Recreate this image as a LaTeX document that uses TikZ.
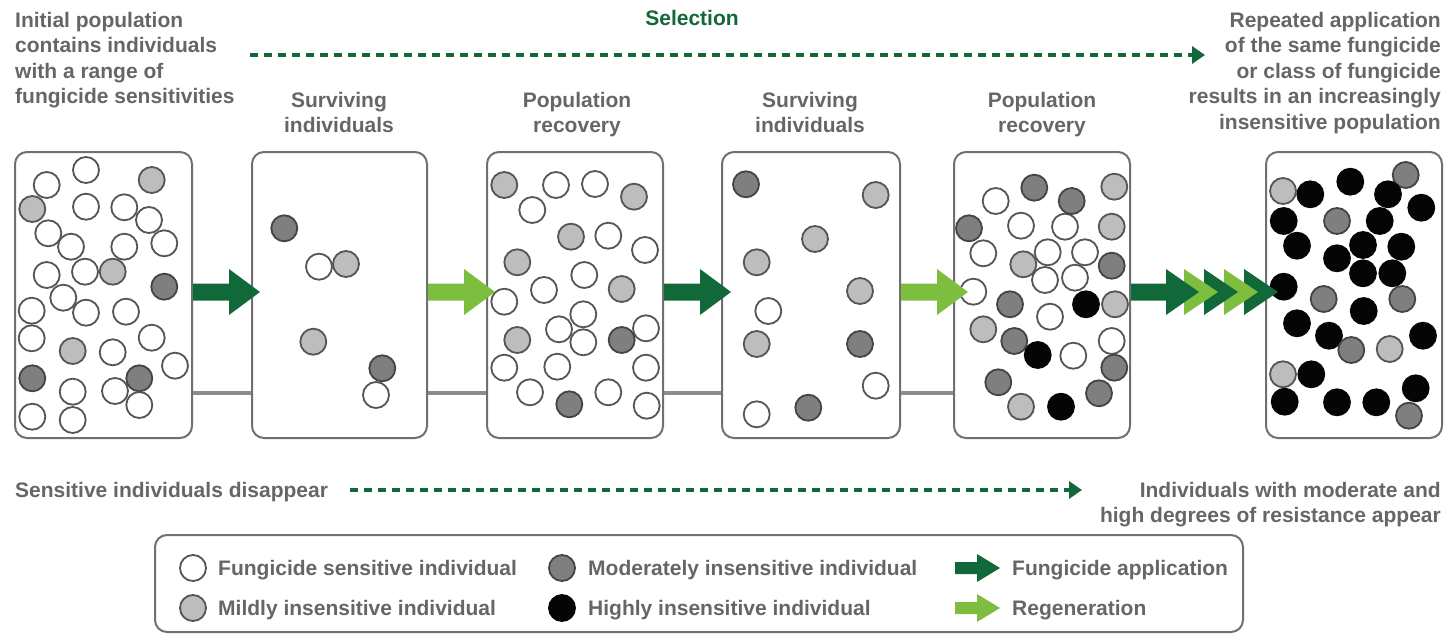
\documentclass[tikz,border=0pt]{standalone}
\usepackage{fontspec}
\setmainfont{Liberation Sans}
\usetikzlibrary{arrows.meta,calc}
\definecolor{darkg}{HTML}{11693A}
\definecolor{lightg}{HTML}{7DBE3F}
\definecolor{txtgray}{HTML}{666666}
\definecolor{boxgray}{HTML}{707070}
\definecolor{linkgray}{HTML}{8C8C8C}
\definecolor{ringgray}{HTML}{555555}
\definecolor{mildfill}{HTML}{BDBDBD}
\definecolor{modfill}{HTML}{7F7F7F}
\definecolor{highfill}{HTML}{050505}
% block arrow: #1 colour, #2 start point (shaft starts there, centred)
\newcommand\BlockArr[2]{\fill[#1] #2 ++(0,-8.5) -- ++(36,0) -- ++(0,-14.5) -- ++(31,23) -- ++(-31,23) -- ++(0,-14.5) -- ++(-36,0) -- cycle;}
\begin{document}
\begin{tikzpicture}[x=1pt,y=-1pt,
  popbox/.style={draw=boxgray, line width=2pt, fill=white, rounded corners=12pt, minimum height=286pt, inner sep=0pt},
  legbox/.style={draw=boxgray, line width=2pt, fill=white, rounded corners=12pt, inner sep=0pt},
  link/.style={draw=linkgray, line width=4.5pt},
  lbl/.style={font=\bfseries\fontsize{21}{25.5}\selectfont, text=txtgray, inner sep=0pt},
  sel/.style={font=\bfseries\fontsize{21}{25.5}\selectfont, text=darkg, inner sep=0pt},
  seldash/.style={draw=darkg, line width=3.5pt, dash pattern=on 8pt off 6pt, -{Triangle[length=13pt,width=17pt]}},
  cW/.style={draw=ringgray, line width=1.8pt, fill=white},
  cL/.style={draw=ringgray, line width=1.8pt, fill=mildfill},
  cM/.style={draw=ringgray!80!black, line width=1.8pt, fill=modfill},
  cH/.style={draw=highfill, line width=1.8pt, fill=highfill}]
\useasboundingbox (0,0) rectangle (1453,637);

% population boxes
\node[popbox, minimum width=177pt] (b1) at (103.5,295) {};
\node[popbox, minimum width=175pt] (b2) at (339.5,295) {};
\node[popbox, minimum width=176pt] (b3) at (575,295) {};
\node[popbox, minimum width=178pt] (b4) at (811,295) {};
\node[popbox, minimum width=176pt] (b5) at (1042,295) {};
\node[popbox, minimum width=176pt] (b6) at (1354,295) {};

% grey links between boxes
\draw[link] ([yshift=46pt]b1.south east) -- ([yshift=46pt]b2.south west);
\draw[link] ([yshift=46pt]b2.south east) -- ([yshift=46pt]b3.south west);
\draw[link] ([yshift=46pt]b3.south east) -- ([yshift=46pt]b4.south west);
\draw[link] ([yshift=46pt]b4.south east) -- ([yshift=46pt]b5.south west);

% individuals
\foreach \x/\y/\t in {86/170/W, 46.7/185/W, 151.7/180/L, 32.3/209/L, 86/206.7/W, 124.3/207.3/W, 149/220/W, 48.3/233.3/W, 71/246.7/W, 124.3/246.7/W, 164.3/243.3/W, 46.7/275/W, 85/271.7/W, 112.7/271.7/L, 164.3/286.7/M, 63.3/297.7/W, 86/312.7/W, 126/311.7/W, 31.7/310.7/W, 31.7/338.3/W, 72.7/351/L, 112.7/352.3/W, 151.7/337.7/W, 175/365.7/W, 32.3/378.3/M, 72.7/391.7/W, 115/391/W, 139.3/378.3/M, 139.3/405/W, 32.3/416.7/W, 72.7/420/W,
 284.3/228.3/M, 319/266.7/W, 346/264/L, 313.3/341.7/L, 382.3/368.3/M, 376/395/W,
 504.3/185/L, 556/185/W, 595/184/W, 634/196.7/L, 532.3/210/W, 571/236.7/L, 608.3/235.7/W, 645/250/W, 517.3/262.3/L, 584.3/275/W, 544/290/W, 621.7/289/L, 504.3/301.7/W, 583.3/314.3/W, 559/329.3/W, 646/328.3/W, 517.3/340/L, 583.3/342.3/W, 621.7/340/M, 504.3/367.7/W, 557.3/366.7/W, 646/367.7/W, 530/392.3/W, 608.3/392.3/W, 569.3/404.3/M, 646.7/405.7/W,
 746/184.3/M, 875.7/195/L, 815/239/L, 756.7/262.3/L, 860/291/L, 768.3/311/W, 756.7/344/L, 860/344/M, 875.7/385.7/W, 756.7/414.3/W, 808.3/407.7/M,
 1034.3/187.7/M, 995.7/201/W, 1114.3/186.7/L, 969/228.3/M, 1021/225.7/W, 1065/226.7/W, 1071.7/201/M, 1111.7/226.7/L, 983.3/253.3/W, 1023.3/264.3/L, 1047.7/252.3/W, 1085/252.3/W, 1111.7/265.7/M, 1045/280/W, 1075/277.7/W, 973.3/291.7/W, 1010/304.3/M, 1086/304.3/H, 1115/304.3/L, 1050/316.7/W, 983.3/329.3/L, 1014.3/341/M, 1111.7/341/W, 1037.7/355/H, 1073.3/355.7/W, 1114.3/367.7/M, 998.3/382.3/M, 1099/393.3/M, 1021/406.7/L, 1061/406.7/H,
 1283/191/L, 1310.3/194.3/H, 1350.3/181.7/H, 1405.7/175/M, 1388/194.3/H, 1421.3/207.7/H, 1283.7/221/H, 1337/221/M, 1379.7/221/H, 1297/245.7/H, 1363/245/H, 1401.3/246.7/H, 1337/258.3/H, 1363/273.3/H, 1392.3/273.3/H, 1283.7/286.7/H, 1323.7/299/M, 1402.3/299/M, 1363.7/311/H, 1297/323.3/H, 1329/335.7/H, 1423/335.7/H, 1351.3/350/M, 1389.7/349/L, 1283/374.3/L, 1311.3/374.3/H, 1415.7/388.3/H, 1284.7/401.7/H, 1337/402.3/H, 1376.3/402.3/H, 1409/415.7/M}
  \draw[c\t] (\x,\y) circle[radius=13pt];

% fungicide application / regeneration arrows between boxes
\BlockArr{darkg}{([yshift=3pt]b1.east)}
\BlockArr{lightg}{([yshift=3pt]b2.east)}
\BlockArr{darkg}{([yshift=3pt]b3.east)}
\BlockArr{lightg}{([yshift=3pt]b4.east)}
% repeated applications (chevrons), drawn back to front
\fill[darkg]  ([yshift=3pt]b5.east) ++(113,-23) -- ++(34,23) -- ++(-34,23) -- cycle;
\fill[lightg] ([yshift=3pt]b5.east) ++(93,-23) -- ++(34,23) -- ++(-34,23) -- cycle;
\fill[darkg]  ([yshift=3pt]b5.east) ++(73,-23) -- ++(34,23) -- ++(-34,23) -- cycle;
\fill[lightg] ([yshift=3pt]b5.east) ++(53,-23) -- ++(34,23) -- ++(-34,23) -- cycle;
\fill[darkg]  ([yshift=3pt]b5.east) ++(0,-8.5) -- ++(35,0) -- ++(0,-14.5) -- ++(33,23) -- ++(-33,23) -- ++(0,-14.5) -- ++(-35,0) -- cycle;

% top texts
\node[lbl, anchor=north west, align=left] (init) at (15,12) {Initial population\\contains individuals\\with a range of\\fungicide sensitivities};
\node[lbl, anchor=north east, align=right] (repeat) at (1441,12) {Repeated application\\of the same fungicide\\or class of fungicide\\results in an increasingly\\insensitive population};
\node[sel, anchor=base] (selection) at (692,25) {Selection};
\coordinate (selS) at (250,55);
\coordinate (selE) at (1205,55);
\draw[seldash] (selS) -- (selE);

\node[lbl, anchor=north, align=center] (t2) at (339,92) {Surviving\\individuals};
\node[lbl, anchor=north, align=center] (t3) at (577,92) {Population\\recovery};
\node[lbl, anchor=north, align=center] (t4) at (810,92) {Surviving\\individuals};
\node[lbl, anchor=north, align=center] (t5) at (1042,92) {Population\\recovery};

% bottom texts
\node[lbl, anchor=base west] (disappear) at (15,497.5) {Sensitive individuals disappear};
\node[lbl, anchor=north east, align=right] (appear) at (1441,482) {Individuals with moderate and\\high degrees of resistance appear};
\coordinate (disS) at (350,490);
\coordinate (disE) at (1082,490);
\draw[seldash] (disS) -- (disE);

% legend
\node[legbox, minimum width=1088pt, minimum height=97pt] (legend) at (699,583.5) {};
\draw[cW] (193,568) circle[radius=13pt];
\node[lbl, anchor=base west] (lw) at (218,575.5) {Fungicide sensitive individual};
\draw[cL] (193,608) circle[radius=13pt];
\node[lbl, anchor=base west] (ll) at (218,615.5) {Mildly insensitive individual};
\draw[cM] (562,568) circle[radius=13pt];
\node[lbl, anchor=base west] (lm) at (588,575.5) {Moderately insensitive individual};
\draw[cH] (562,608) circle[radius=13pt];
\node[lbl, anchor=base west] (lh) at (588,615.5) {Highly insensitive individual};
\fill[darkg] (955,562) -- (977,562) -- (977,554) -- (1000,568) -- (977,582) -- (977,574) -- (955,574) -- cycle;
\node[lbl, anchor=base west] (lfa) at (1012,575.5) {Fungicide application};
\fill[lightg] (955,602) -- (977,602) -- (977,594) -- (1000,608) -- (977,622) -- (977,614) -- (955,614) -- cycle;
\node[lbl, anchor=base west] (lrg) at (1012,615.5) {Regeneration};
\end{tikzpicture}
\end{document}
